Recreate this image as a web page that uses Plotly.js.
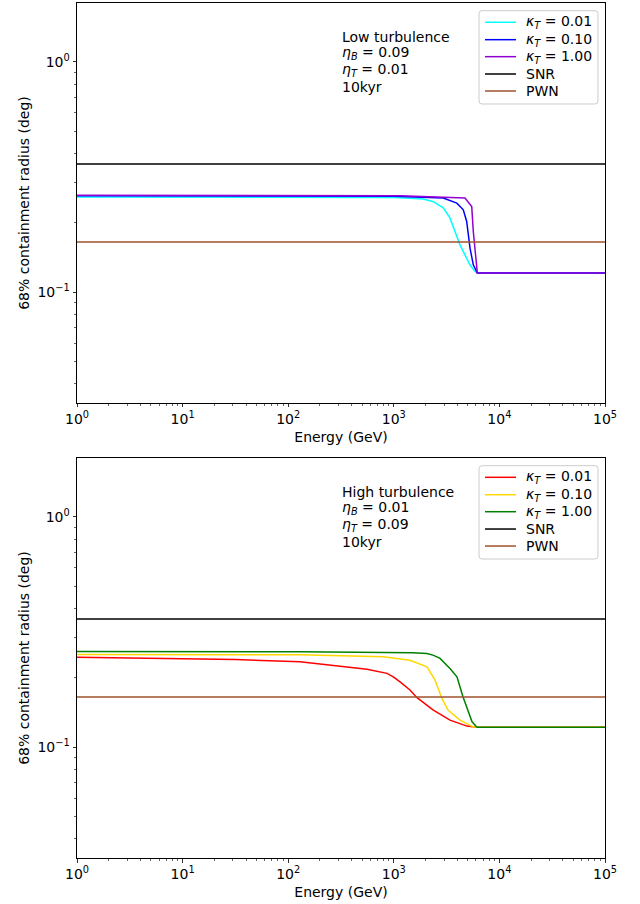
<!DOCTYPE html>
<html>
<head>
<meta charset="utf-8">
<script src="https://cdn.plot.ly/plotly-3.0.1.min.js"></script>
<style>
  html, body { margin: 0; padding: 0; background: #ffffff; }
  #chart { width: 640px; height: 904px; }
</style>
</head>
<body>
<div id="chart"></div>
<script>
// 68% containment radius versus photon energy, for two turbulence regimes.

// ---- Low turbulence (eta_B = 0.09, eta_T = 0.01) ----
const lowK001E = [1, 10, 100, 1000, 1150, 1900, 2370, 2940, 3400, 3800, 4240, 4720, 5270, 5880, 6180, 100000];
const lowK001R = [0.259, 0.259, 0.258, 0.2575, 0.257, 0.2535, 0.247, 0.232, 0.210, 0.183, 0.160, 0.145, 0.131, 0.123, 0.121, 0.121];

const lowK010E = [1, 10, 100, 1000, 1150, 2940, 3950, 4550, 4900, 5270, 5660, 6180, 100000];
const lowK010R = [0.262, 0.262, 0.261, 0.261, 0.260, 0.256, 0.2434, 0.2277, 0.2025, 0.1552, 0.1313, 0.121, 0.121];

const lowK100E = [1, 10, 100, 1000, 1150, 4720, 5470, 5660, 5880, 6180, 100000];
const lowK100R = [0.263, 0.263, 0.262, 0.262, 0.262, 0.256, 0.235, 0.1833, 0.150, 0.121, 0.121];

// ---- High turbulence (eta_B = 0.01, eta_T = 0.09) ----
const highK001E = [1, 10, 31.6, 129, 265, 557, 863, 989, 1146, 1422, 1660, 2350, 3404, 4932, 6138, 100000];
const highK001R = [0.2455, 0.243, 0.240, 0.235, 0.227, 0.218, 0.209, 0.202, 0.192, 0.177, 0.164, 0.145, 0.131, 0.1234, 0.122, 0.122];

const highK010E = [1, 129, 790, 1422, 2061, 2455, 2858, 3258, 4236, 5623, 6138, 100000];
const highK010R = [0.2527, 0.2517, 0.2466, 0.2385, 0.2233, 0.1954, 0.1627, 0.1448, 0.131, 0.1225, 0.122, 0.122];

const highK100E = [1, 129, 1500, 2061, 2350, 2742, 3404, 3963, 4519, 5508, 6138, 100000];
const highK100R = [0.260, 0.2594, 0.257, 0.255, 0.2508, 0.2427, 0.2196, 0.2019, 0.1654, 0.1288, 0.122, 0.122];

// Reference extents of the remnant and the nebula (constant in energy)
const refE = [1, 100000];
const snrRadius = 0.36;
const pwnRadius = 0.165;

// Axis ticks
const energyTickVals = [1, 10, 100, 1000, 10000, 100000];
const energyTickText = ['10<sup>0</sup>', '10<sup>1</sup>', '10<sup>2</sup>', '10<sup>3</sup>', '10<sup>4</sup>', '10<sup>5</sup>'];
const radiusTickVals = [0.1, 1];
const radiusTickText = ['10<sup>\u22121</sup>', '10<sup>0</sup>'];
const radiusRange = [0.033, 1.8];

// Panel annotations and legend labels
const lowText = ['Low turbulence', '<i>\u03b7</i><sub><i>B</i></sub> = 0.09', '<i>\u03b7</i><sub><i>T</i></sub> = 0.01', '10kyr'];
const highText = ['High turbulence', '<i>\u03b7</i><sub><i>B</i></sub> = 0.01', '<i>\u03b7</i><sub><i>T</i></sub> = 0.09', '10kyr'];
const seriesNames = ['<i>\u03ba</i><sub><i>T</i></sub> = 0.01', '<i>\u03ba</i><sub><i>T</i></sub> = 0.10', '<i>\u03ba</i><sub><i>T</i></sub> = 1.00', 'SNR', 'PWN'];
const lowColors = ['#00ffff', '#0000ff', '#9400d3', '#000000', '#a0522d'];
const highColors = ['#ff0000', '#ffd700', '#008000', '#000000', '#a0522d'];

// Minor tick positions (2..9 within each decade)
function minorTicks(lo, hi) {
  const out = [];
  for (let p = lo; p < hi; p++) {
    for (let m = 2; m <= 9; m++) out.push(m * Math.pow(10, p));
  }
  return out;
}

const FONT = 'DejaVu Sans, sans-serif';
const LW = 1.5;

function line(x, y, name, color, xa, ya) {
  return { type: 'scatter', mode: 'lines', x: x, y: y, name: name,
           line: { color: color, width: LW }, xaxis: xa, yaxis: ya,
           showlegend: false, hoverinfo: 'skip' };
}

const traces = [
  line(lowK001E, lowK001R, seriesNames[0], lowColors[0], 'x', 'y'),
  line(lowK010E, lowK010R, seriesNames[1], lowColors[1], 'x', 'y'),
  line(lowK100E, lowK100R, seriesNames[2], lowColors[2], 'x', 'y'),
  line(refE, [snrRadius, snrRadius], seriesNames[3], lowColors[3], 'x', 'y'),
  line(refE, [pwnRadius, pwnRadius], seriesNames[4], lowColors[4], 'x', 'y'),

  line(highK001E, highK001R, seriesNames[0], highColors[0], 'x2', 'y2'),
  line(highK010E, highK010R, seriesNames[1], highColors[1], 'x2', 'y2'),
  line(highK100E, highK100R, seriesNames[2], highColors[2], 'x2', 'y2'),
  line(refE, [snrRadius, snrRadius], seriesNames[3], highColors[3], 'x2', 'y2'),
  line(refE, [pwnRadius, pwnRadius], seriesNames[4], highColors[4], 'x2', 'y2')
];

function xAxis(anchor) {
  return {
    type: 'log', range: [0, 5], anchor: anchor, domain: [0, 1],
    showline: true, linecolor: '#000000', linewidth: 1, mirror: true,
    ticks: 'outside', ticklen: 3.5, tickwidth: 0.8, tickcolor: '#000000',
    tickmode: 'array', tickvals: energyTickVals, ticktext: energyTickText,
    tickfont: { family: FONT, size: 14, color: '#000000' },
    minor: { tickmode: 'array', tickvals: minorTicks(0, 5), ticks: 'outside', ticklen: 2, tickwidth: 0.6, tickcolor: '#000000', showgrid: false },
    showgrid: false, zeroline: false,
    title: { text: 'Energy (GeV)', font: { family: FONT, size: 14, color: '#000000' }, standoff: 5 }
  };
}

function yAxis(anchor, domain) {
  return {
    type: 'log', range: [Math.log10(radiusRange[0]), Math.log10(radiusRange[1])],
    anchor: anchor, domain: domain,
    showline: true, linecolor: '#000000', linewidth: 1, mirror: true,
    ticks: 'outside', ticklen: 3.5, tickwidth: 0.8, tickcolor: '#000000',
    tickmode: 'array', tickvals: radiusTickVals, ticktext: radiusTickText,
    tickfont: { family: FONT, size: 14, color: '#000000' },
    minor: { tickmode: 'array', tickvals: minorTicks(-2, 1), ticks: 'outside', ticklen: 2, tickwidth: 0.6, tickcolor: '#000000', showgrid: false },
    showgrid: false, zeroline: false,
    title: { text: '68% containment radius (deg)', font: { family: FONT, size: 14, color: '#000000' }, standoff: 4 }
  };
}

function panelText(lines, xref, yref) {
  const ys = [0.915, 0.874, 0.8325, 0.791];
  return lines.map((t, i) => ({
    text: t, xref: xref, yref: yref, x: 0.499, y: ys[i],
    xanchor: 'left', yanchor: 'middle', showarrow: false,
    font: { family: FONT, size: 14, color: '#000000' }
  }));
}

// Legend drawn inside each panel: rounded box, line samples and labels
const LEG = { x0: 0.7614, x1: 0.9867, y0: 0.7475, y1: 0.9808,
              lineX0: 0.7727, lineX1: 0.8314, textX: 0.8465,
              rows: [0.9518, 0.9083, 0.8658, 0.8225, 0.780] };

function roundedBox(xref, yref) {
  const rx = 3 / 528, ry = 3 / 400;
  const { x0, x1, y0, y1 } = LEG;
  const p = `M ${x0 + rx},${y0} L ${x1 - rx},${y0} Q ${x1},${y0} ${x1},${y0 + ry} ` +
            `L ${x1},${y1 - ry} Q ${x1},${y1} ${x1 - rx},${y1} L ${x0 + rx},${y1} ` +
            `Q ${x0},${y1} ${x0},${y1 - ry} L ${x0},${y0 + ry} Q ${x0},${y0} ${x0 + rx},${y0} Z`;
  return { type: 'path', path: p, xref: xref, yref: yref, layer: 'above',
           fillcolor: 'rgba(255,255,255,0.8)', line: { color: '#cccccc', width: 1 } };
}

function legendShapes(colors, xref, yref) {
  const s = [roundedBox(xref, yref)];
  colors.forEach((c, i) => s.push({
    type: 'line', xref: xref, yref: yref, layer: 'above',
    x0: LEG.lineX0, x1: LEG.lineX1, y0: LEG.rows[i], y1: LEG.rows[i],
    line: { color: c, width: LW }
  }));
  return s;
}

function legendLabels(xref, yref) {
  return seriesNames.map((t, i) => ({
    text: t, xref: xref, yref: yref, x: LEG.textX, y: LEG.rows[i],
    xanchor: 'left', yanchor: 'middle', showarrow: false,
    font: { family: FONT, size: 14, color: '#000000' }
  }));
}

const layout = {
  width: 640, height: 904,
  margin: { l: 77, r: 35, t: 3, b: 46 },
  paper_bgcolor: '#ffffff', plot_bgcolor: '#ffffff',
  font: { family: FONT, size: 14, color: '#000000' },
  showlegend: false,
  xaxis: xAxis('y'),
  yaxis: yAxis('x', [0.5322, 1]),
  xaxis2: xAxis('y2'),
  yaxis2: yAxis('x2', [0, 0.4678]),
  shapes: legendShapes(lowColors, 'x domain', 'y domain')
            .concat(legendShapes(highColors, 'x2 domain', 'y2 domain')),
  annotations: panelText(lowText, 'x domain', 'y domain')
            .concat(panelText(highText, 'x2 domain', 'y2 domain'))
            .concat(legendLabels('x domain', 'y domain'))
            .concat(legendLabels('x2 domain', 'y2 domain'))
};

Plotly.newPlot('chart', traces, layout, { staticPlot: true, displayModeBar: false });
</script>
</body>
</html>
